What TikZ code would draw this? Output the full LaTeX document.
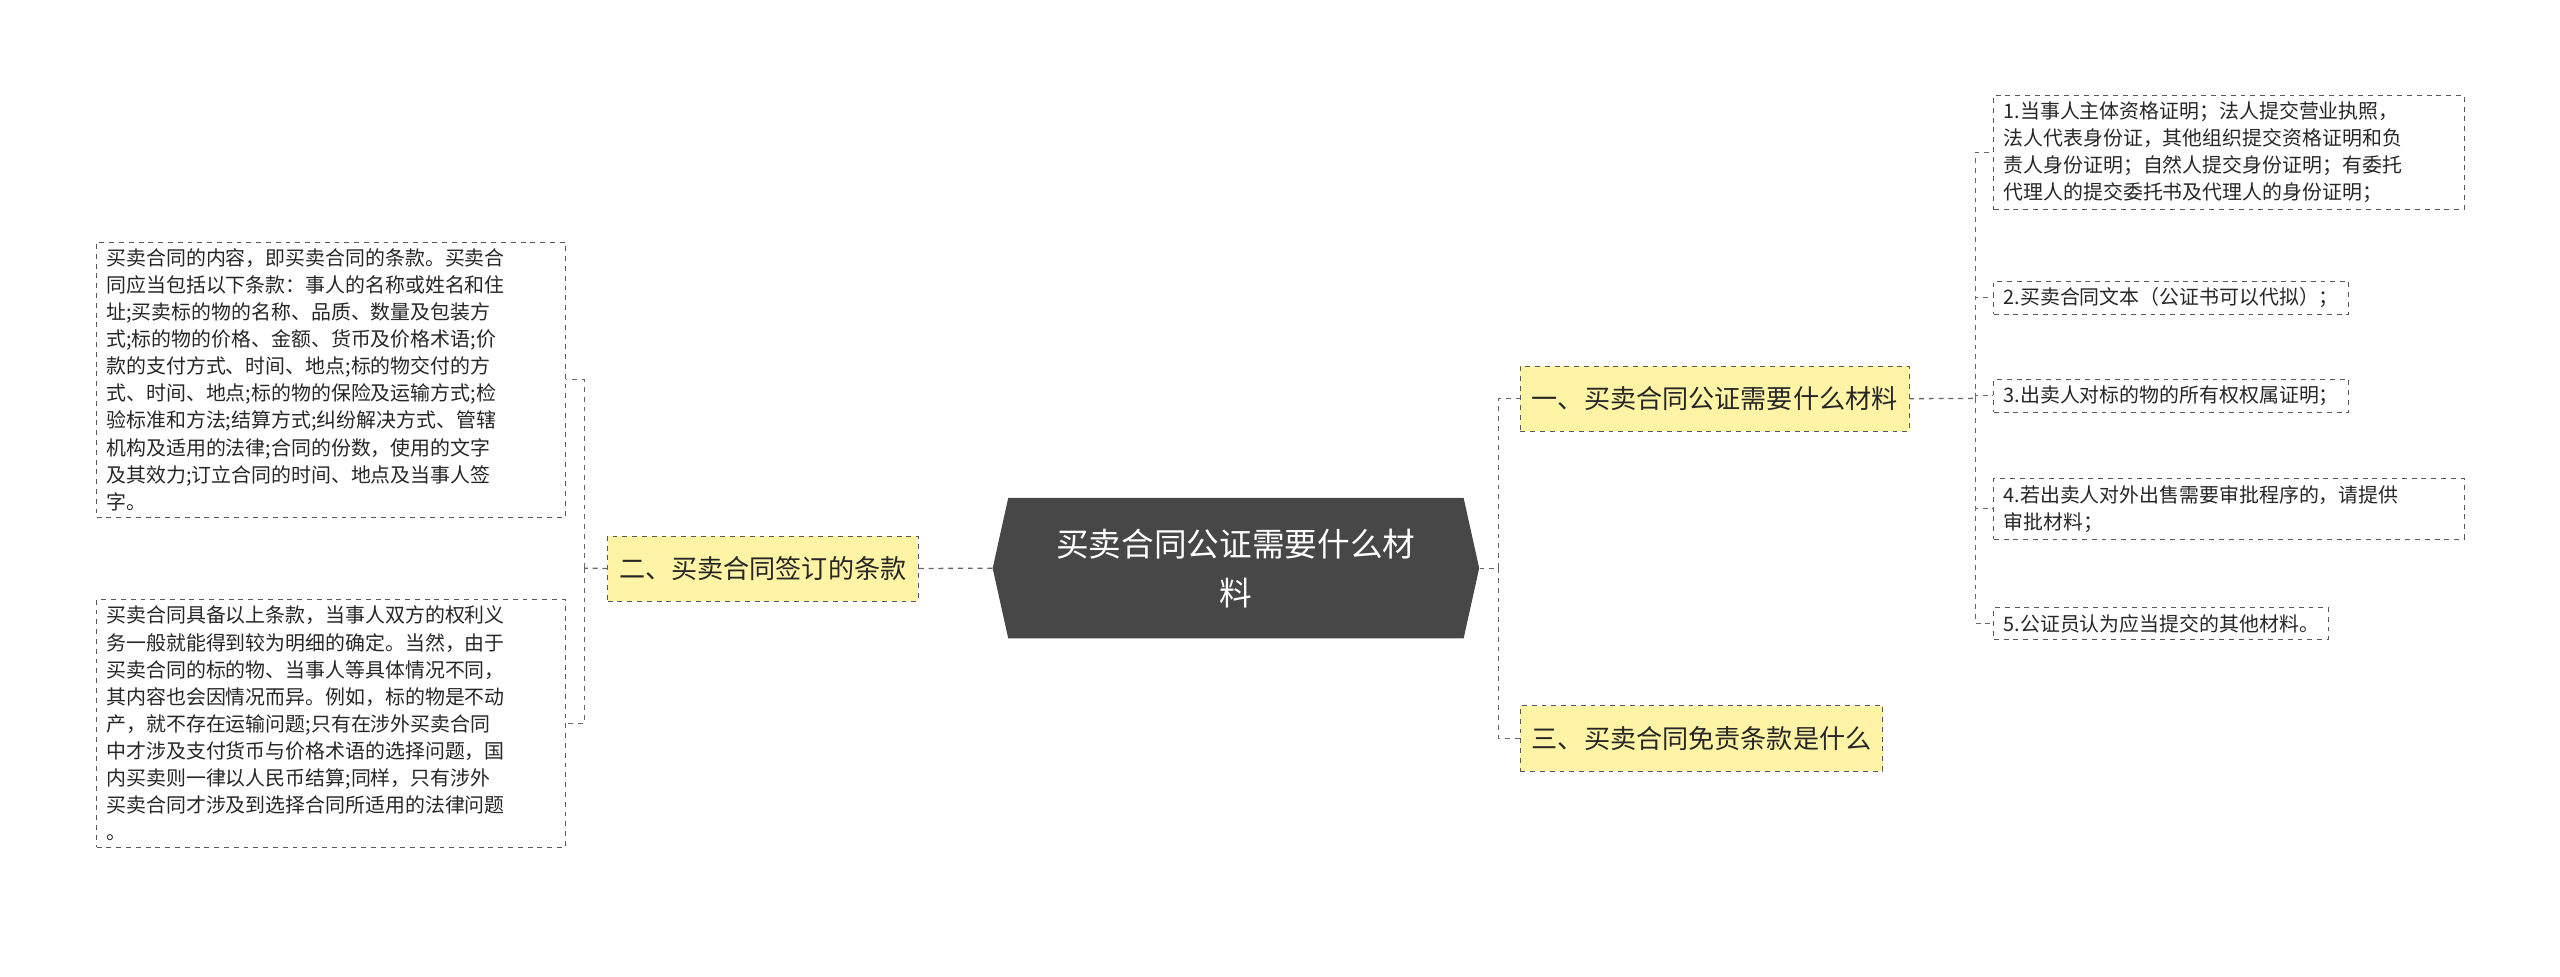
\documentclass[tikz,border=0pt]{standalone}
\usepackage{fontspec}
\setmainfont{Noto Sans CJK SC}
\usetikzlibrary{shapes.symbols}
\begin{document}
\begin{tikzpicture}[x=1pt,y=-1pt,
 leaf/.style={draw=black!65,dashed,align=left,anchor=north west,inner xsep=6pt,inner ysep=4pt,font=\fontsize{12.2}{16.6}\selectfont,text=black!85},
 branch/.style={draw=black!65,dashed,fill=orange!25!yellow!35,anchor=north west,inner xsep=7pt,font=\fontsize{16}{19}\selectfont,text=black!85,minimum height=40},
 link/.style={draw=black!60,dashed,thick}]
\useasboundingbox (0,0) rectangle (1568,598);
\node[signal,signal to=west and east,signal pointer angle=155,fill=black!72,text=white,minimum width=298,minimum height=86,align=center,font=\fontsize{20}{30}\selectfont] (c) at (757,348) {买卖合同公证需要什么材\\料};
\node[branch] (l) at (372,328) {二、买卖合同签订的条款};
\node[branch] (r1) at (931,224) {一、买卖合同公证需要什么材料};
\node[branch] (r3) at (931,432) {三、买卖合同免责条款是什么};
\node[leaf,text width=275] (a1) at (59,148) {买卖合同的内容，即买卖合同的条款。买卖合\\同应当包括以下条款：事人的名称或姓名和住\\址;买卖标的物的名称、品质、数量及包装方\\式;标的物的价格、金额、货币及价格术语;价\\款的支付方式、时间、地点;标的物交付的方\\式、时间、地点;标的物的保险及运输方式;检\\验标准和方法;结算方式;纠纷解决方式、管辖\\机构及适用的法律;合同的份数，使用的文字\\及其效力;订立合同的时间、地点及当事人签\\字。};
\node[leaf,text width=275] (a2) at (59,367) {买卖合同具备以上条款，当事人双方的权利义\\务一般就能得到较为明细的确定。当然，由于\\买卖合同的标的物、当事人等具体情况不同，\\其内容也会因情况而异。例如，标的物是不动\\产，就不存在运输问题;只有在涉外买卖合同\\中才涉及支付货币与价格术语的选择问题，国\\内买卖则一律以人民币结算;同样，只有涉外\\买卖合同才涉及到选择合同所适用的法律问题\\。};
\node[leaf,text width=276] (b1) at (1221,58) {1.当事人主体资格证明；法人提交营业执照，\\法人代表身份证，其他组织提交资格证明和负\\责人身份证明；自然人提交身份证明；有委托\\代理人的提交委托书及代理人的身份证明；};
\node[leaf] (b2) at (1221,172) {2.买卖合同文本（公证书可以代拟）；};
\node[leaf] (b3) at (1221,232) {3.出卖人对标的物的所有权权属证明；};
\node[leaf,text width=276] (b4) at (1221,293) {4.若出卖人对外出售需要审批程序的，请提供\\审批材料；};
\node[leaf] (b5) at (1221,372) {5.公证员认为应当提交的其他材料。};
\coordinate (cr) at (918,348);
\coordinate (cl) at (592,348);
\coordinate (r1r) at (1210,244);
\coordinate (ll) at (358,348);
\draw[link] (c.east) -- (cr) |- (r1.west);
\draw[link] (cr) |- (r3.west);
\draw[link] (c.west) -- (l.east);
\draw[link] (r1.east) -- (r1r);
\foreach \n in {b1,b2,b3,b4,b5} \draw[link] (r1r) |- (\n.west);
\draw[link] (l.west) -- (ll);
\draw[link] (ll) |- (a1.east);
\draw[link] (ll) |- (a2.east);
\end{tikzpicture}
\end{document}
